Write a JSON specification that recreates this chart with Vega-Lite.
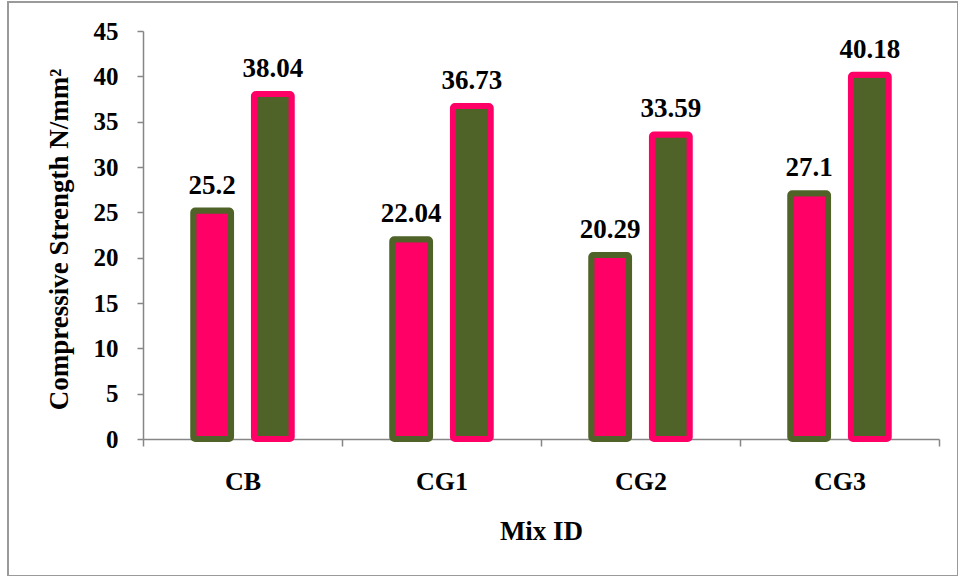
{
  "$schema": "https://vega.github.io/schema/vega-lite/v6.json",
  "autosize": "none",
  "width": 950,
  "height": 574,
  "padding": {"left": 8, "top": 2, "right": 0, "bottom": 0},
  "background": "white",
  "config": {
    "view": {"stroke": "#9a9a9a", "strokeWidth": 2},
    "font": "Liberation Serif",
    "axis": {
      "labelFont": "Liberation Serif",
      "labelFontWeight": "bold",
      "labelColor": "black",
      "titleFont": "Liberation Serif",
      "titleFontWeight": "bold",
      "titleColor": "black",
      "domainColor": "#868686",
      "tickColor": "#868686",
      "domainWidth": 1.5,
      "tickWidth": 1.5,
      "grid": false
    }
  },
  "data": {
    "values": [
      {"mix": "CB", "curing": "7 days", "strength": 25.2},
      {"mix": "CB", "curing": "28 days", "strength": 38.04},
      {"mix": "CG1", "curing": "7 days", "strength": 22.04},
      {"mix": "CG1", "curing": "28 days", "strength": 36.73},
      {"mix": "CG2", "curing": "7 days", "strength": 20.29},
      {"mix": "CG2", "curing": "28 days", "strength": 33.59},
      {"mix": "CG3", "curing": "7 days", "strength": 27.1},
      {"mix": "CG3", "curing": "28 days", "strength": 40.18}
    ]
  },
  "encoding": {
    "x": {
      "field": "mix",
      "type": "nominal",
      "sort": null,
      "scale": {"range": [135, 931], "paddingInner": 0, "paddingOuter": 0},
      "axis": {
        "title": "Mix ID",
        "offset": -137,
        "labelAngle": 0,
        "labelFontSize": 26,
        "tickBand": "extent",
        "tickSize": 7,
        "labelPadding": 22,
        "titleFontSize": 27,
        "titleX": 533,
        "titleY": 100,
        "titleAlign": "center",
        "titleBaseline": "alphabetic"
      }
    },
    "xOffset": {
      "field": "curing",
      "type": "nominal",
      "sort": ["7 days", "28 days"],
      "scale": {"paddingInner": 0.377, "paddingOuter": 0.828}
    },
    "y": {
      "field": "strength",
      "type": "quantitative",
      "scale": {"domain": [0, 45], "nice": false, "range": [437, 29]},
      "axis": {
        "title": "Compressive Strength N/mm²",
        "offset": -135,
        "values": [0, 5, 10, 15, 20, 25, 30, 35, 40, 45],
        "labelFontSize": 25,
        "tickSize": 6,
        "labelPadding": 19,
        "titleFontSize": 27,
        "titleAngle": -90,
        "titleX": -76,
        "titleY": 237,
        "titleAlign": "center",
        "titleBaseline": "alphabetic"
      }
    }
  },
  "layer": [
    {
      "mark": {"type": "bar", "strokeWidth": 6, "cornerRadius": 2},
      "encoding": {
        "fill": {
          "field": "curing",
          "type": "nominal",
          "scale": {"domain": ["7 days", "28 days"], "range": ["#FF0066", "#4F6228"]},
          "legend": null
        },
        "stroke": {
          "field": "curing",
          "type": "nominal",
          "scale": {"domain": ["7 days", "28 days"], "range": ["#4F6228", "#FF0066"]},
          "legend": null
        }
      }
    },
    {
      "mark": {
        "type": "text",
        "font": "Liberation Serif",
        "fontWeight": "bold",
        "fontSize": 27,
        "baseline": "alphabetic",
        "align": "center",
        "dy": -17,
        "color": "black"
      },
      "encoding": {
        "text": {"field": "strength", "type": "quantitative", "format": ""}
      }
    }
  ]
}
